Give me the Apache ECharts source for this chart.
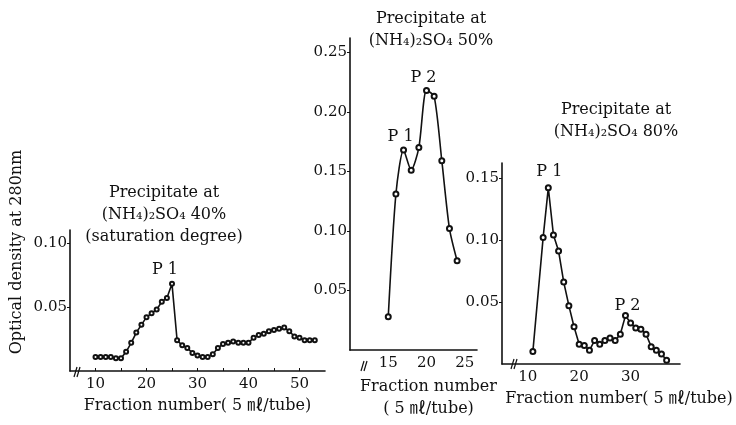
<!DOCTYPE html>
<html>
<head>
<meta charset="utf-8">
<script src="https://cdn.jsdelivr.net/npm/echarts@6/dist/echarts.min.js"></script>
<style>
html, body { margin: 0; background: #fff; }
#chart { width: 736px; height: 425px; }
</style>
</head>
<body>
<div id="chart"></div>
<script>
	'use strict'
	/*--data--*/
	var fr40 = [10, 11, 12, 13, 14, 15, 16, 17, 18, 19, 20, 21, 22, 23, 24, 25, 26, 27, 28, 29, 30, 31,
		32, 33, 34, 35, 36, 37, 38, 39, 40, 41, 42, 43, 44, 45, 46, 47, 48, 49, 50, 51, 52, 53];
	var od40 = [0.011, 0.011, 0.011, 0.011, 0.010, 0.010, 0.015, 0.022, 0.030, 0.036, 0.042, 0.045,
		0.048, 0.054, 0.057, 0.068, 0.024, 0.020, 0.018, 0.014, 0.012, 0.011, 0.011, 0.013, 0.018,
		0.021, 0.022, 0.023, 0.022, 0.022, 0.022, 0.026, 0.028, 0.029, 0.031, 0.032, 0.033, 0.034,
		0.031, 0.027, 0.026, 0.024, 0.024, 0.024];
	var fr50 = [15, 16, 17, 18, 19, 20, 21, 22, 23, 24];
	var od50 = [0.028, 0.131, 0.168, 0.151, 0.170, 0.218, 0.213, 0.159, 0.102, 0.075];
	var fr80 = [11, 13, 14, 15, 16, 17, 18, 19, 20, 21, 22, 23, 24, 25, 26, 27, 28, 29, 30, 31, 32,
		33, 34, 35, 36, 37];
	var od80 = [0.010, 0.102, 0.142, 0.104, 0.091, 0.066, 0.047, 0.030, 0.016, 0.015, 0.011, 0.019,
		0.016, 0.019, 0.021, 0.019, 0.024, 0.039, 0.033, 0.029, 0.028, 0.024, 0.014, 0.011, 0.008,
		0.003];
	var xLabels40 = [10, 20, 30, 40, 50];
	var xLabels50 = [15, 20, 25];
	var xLabels80 = [10, 20, 30];
	var yLabels = [0.05, 0.10, 0.15, 0.20, 0.25];

	var serif = '"DejaVu Serif", "Liberation Serif", "Noto Sans CJK JP", serif';
	var ink = '#111';

	function pairs(xs, ys) {
		return xs.map(function(x, i) { return [x, ys[i]]; });
	}

	function xAxis(idx, min, max, labels, ticks, name, nameGap, namePad) {
		return {
			type: 'value', gridIndex: idx, min: min, max: max, interval: 5,
			axisLine: { lineStyle: { color: ink, width: 1.6 } },
			axisTick: { show: ticks, inside: true, length: 3, lineStyle: { color: ink } },
			splitLine: { show: false },
			axisLabel: {
				margin: 6, color: ink, fontFamily: serif, fontSize: 15,
				showMinLabel: false, showMaxLabel: false,
				formatter: function(v) { return labels.indexOf(v) >= 0 ? String(v) : ''; }
			},
			name: name, nameLocation: 'middle', nameGap: nameGap,
			nameTextStyle: { color: ink, fontFamily: serif, fontSize: 16, lineHeight: 22, padding: namePad }
		};
	}

	function yAxis(idx, max) {
		return {
			type: 'value', gridIndex: idx, min: 0, max: max, interval: 0.05,
			axisLine: { show: true, lineStyle: { color: ink, width: 1.6 } },
			axisTick: { show: true, length: 3, lineStyle: { color: ink } },
			splitLine: { show: false },
			axisLabel: {
				margin: 3, color: ink, fontFamily: serif, fontSize: 15,
				showMinLabel: false, showMaxLabel: false,
				formatter: function(v) {
					return yLabels.some(function(t) { return Math.abs(t - v) < 1e-6; }) ? v.toFixed(2) : '';
				}
			}
		};
	}

	function peaks(list) {
		return {
			symbol: 'circle', symbolSize: 1, silent: true,
			itemStyle: { color: 'transparent' },
			label: {
				show: true, color: ink, fontFamily: serif, fontSize: 16,
				formatter: function(p) { return p.name; }
			},
			data: list
		};
	}

	function series(idx, xs, ys, size, smooth, mark) {
		return {
			type: 'line', xAxisIndex: idx, yAxisIndex: idx,
			data: pairs(xs, ys),
			smooth: smooth,
			symbol: 'emptyCircle', symbolSize: size,
			lineStyle: { color: ink, width: 1.6 },
			itemStyle: { color: ink, borderWidth: 1 },
			markPoint: peaks(mark)
		};
	}

	function brk(x, y) {
		return [
			{ type: 'line', shape: { x1: x, y1: y + 5, x2: x + 3, y2: y - 5 }, style: { stroke: ink, lineWidth: 1.2 } },
			{ type: 'line', shape: { x1: x + 3, y1: y + 5, x2: x + 6, y2: y - 5 }, style: { stroke: ink, lineWidth: 1.2 } }
		];
	}

	var titleStyle = { color: ink, fontFamily: serif, fontSize: 16, fontWeight: 'normal', lineHeight: 22 };

	var chart = echarts.init(document.getElementById('chart'), null, { renderer: 'canvas' });
	var option = {
		animation: false,
		backgroundColor: '#fff',
		title: [{
			text: 'Precipitate at\n(NH\u2084)\u2082SO\u2084 40%\n(saturation degree)',
			left: 164, top: 182, padding: 0, textAlign: 'center', textStyle: titleStyle
		}, {
			text: 'Precipitate at\n(NH\u2084)\u2082SO\u2084 50%',
			left: 431, top: 8, padding: 0, textAlign: 'center', textStyle: titleStyle
		}, {
			text: 'Precipitate at\n(NH\u2084)\u2082SO\u2084 80%',
			left: 616, top: 99, padding: 0, textAlign: 'center', textStyle: titleStyle
		}],
		grid: [
			{ left: 70, top: 230, width: 255, height: 141 },
			{ left: 350, top: 38, width: 127, height: 327.5 },
			{ left: 502, top: 163, width: 178, height: 201 }
		],
		xAxis: [
			xAxis(0, 5, 55, xLabels40, true, 'Fraction number( 5 \u3396/tube)', 24, [0, 0, 0, 0]),
			xAxis(1, 10, 26.6, xLabels50, false, 'Fraction number\n( 5 \u3396/tube)', 16, [0, 0, 0, 30]),
			xAxis(2, 5, 39.6, xLabels80, false, 'Fraction number( 5 \u3396/tube)', 24, [0, 0, 0, 56])
		],
		yAxis: [yAxis(0, 0.11), yAxis(1, 0.262), yAxis(2, 0.162)],
		series: [
			series(0, fr40, od40, 4, false, [
				{ name: 'P 1', coord: [fr40[15], od40[15]], label: { offset: [-7, -14] } }
			]),
			series(1, fr50, od50, 5, 0.25, [
				{ name: 'P 1', coord: [fr50[2], od50[2]], label: { offset: [-3, -13] } },
				{ name: 'P 2', coord: [fr50[5], od50[5]], label: { offset: [-3, -13] } }
			]),
			series(2, fr80, od80, 5, false, [
				{ name: 'P 1', coord: [fr80[2], od80[2]], label: { offset: [1, -16] } },
				{ name: 'P 2', coord: [fr80[17], od80[17]], label: { offset: [2, -10] } }
			])
		],
		graphic: [{
			type: 'text', x: 17, y: 252, rotation: Math.PI / 2,
			style: {
				text: 'Optical density at 280nm', fill: ink, fontFamily: serif, fontSize: 16,
				align: 'center', verticalAlign: 'middle'
			}
		}].concat(brk(74, 372), brk(361, 366), brk(511, 364))
	};
	chart.setOption(option);
</script>
</body>
</html>
